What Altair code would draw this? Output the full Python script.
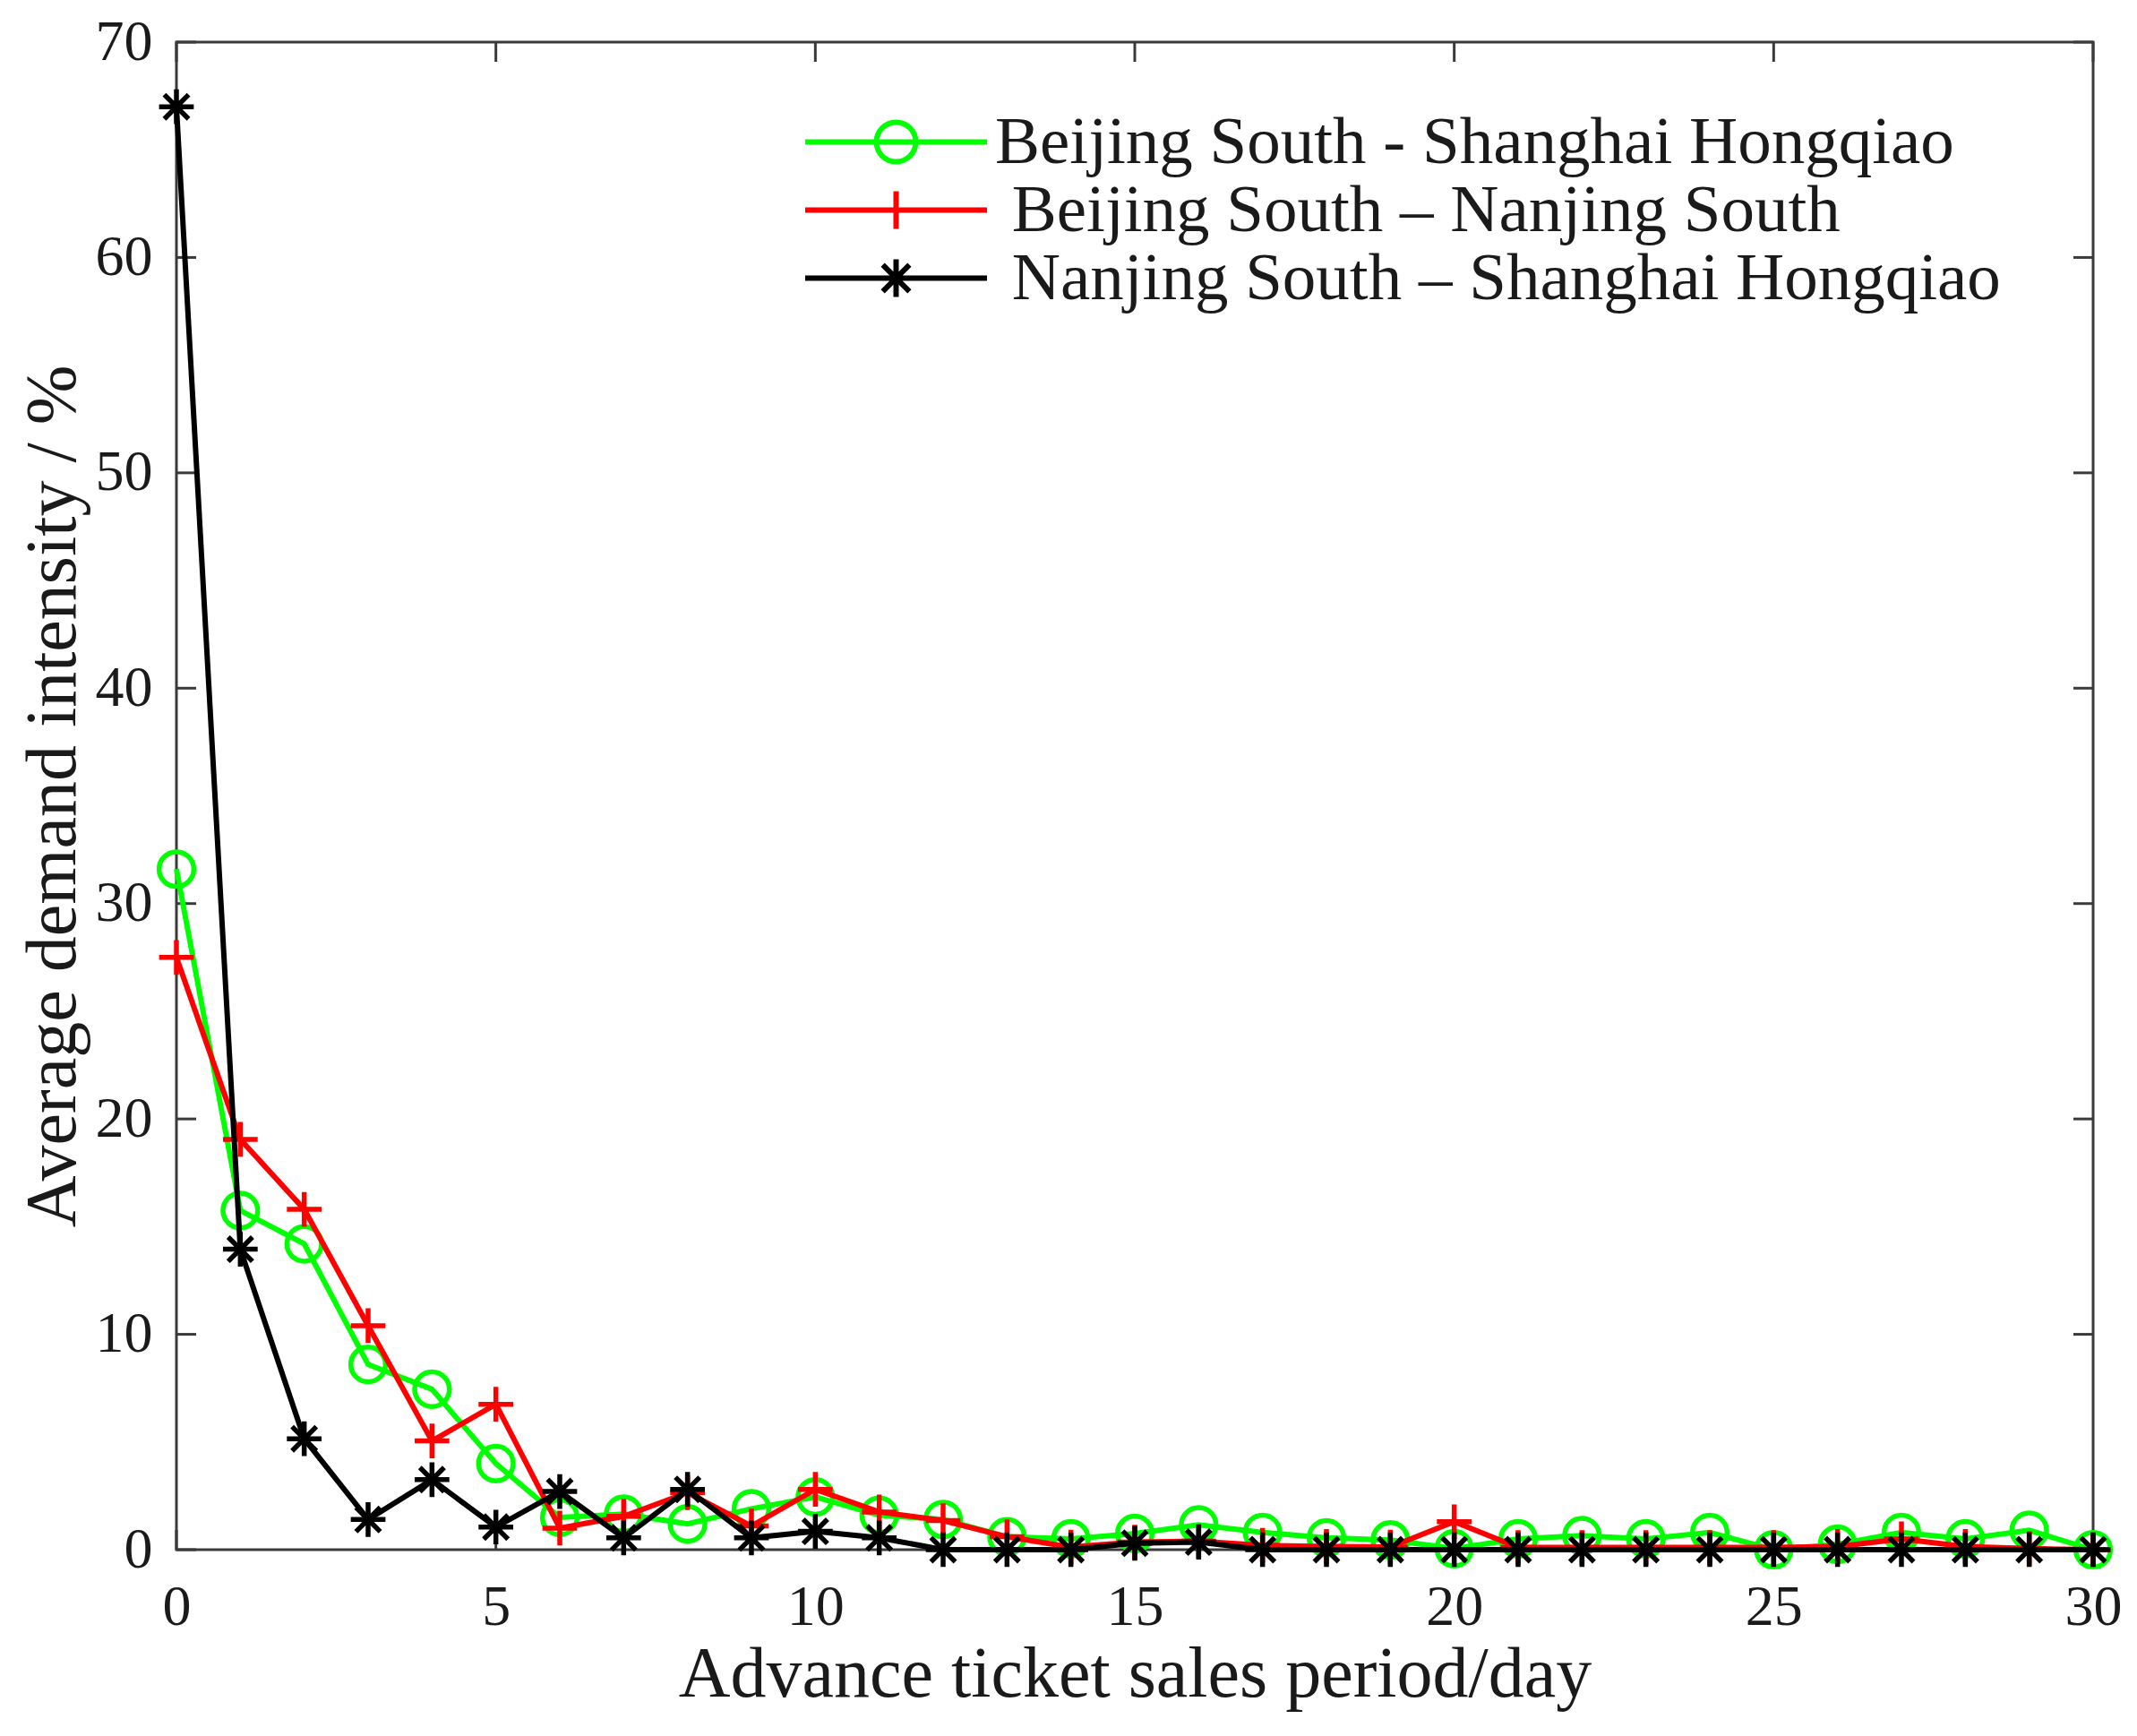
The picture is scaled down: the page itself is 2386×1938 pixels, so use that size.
import altair as alt
import pandas as pd

# ---- data ----
days = list(range(0, 31))
bs_sh = [31.6, 15.75, 14.2, 8.6, 7.45, 4.0, 1.5, 1.65, 1.2, 1.9, 2.45, 1.6, 1.4, 0.6, 0.5,
         0.75, 1.15, 0.8, 0.55, 0.45, 0.05, 0.5, 0.65, 0.5, 0.8, 0.0, 0.25, 0.8, 0.5, 0.9, 0.0]
bs_nj = [27.5, 19.05, 15.8, 10.4, 5.05, 6.75, 1.0, 1.55, 2.65, 1.1, 2.8, 1.75, 1.35, 0.6, 0.12,
         0.35, 0.4, 0.2, 0.15, 0.12, 1.3, 0.1, 0.1, 0.1, 0.1, 0.1, 0.15, 0.5, 0.15, 0.05, 0.0]
nj_sh = [67.0, 13.95, 5.15, 1.4, 3.25, 1.05, 2.7, 0.55, 2.8, 0.55, 0.85, 0.55, 0.0, 0.0, 0.0,
         0.3, 0.35, 0.0, 0.0, 0.0, 0.0, 0.0, 0.0, 0.0, 0.0, 0.0, 0.0, 0.0, 0.0, 0.0, 0.0]

# labels 2 and 3 carry a leading space in the original legend
series_names = ["Beijing South - Shanghai Hongqiao",
                "\u200b\u00a0Beijing South \u2013 Nanjing South",
                "\u200b\u00a0Nanjing South \u2013 Shanghai Hongqiao"]
series_colors = ["#00ff00", "#ff0000", "#000000"]
x_ticks = [0, 5, 10, 15, 20, 25, 30]
y_ticks = [0, 10, 20, 30, 40, 50, 60, 70]

# marker shapes (unit box -1..1)
marker_paths = [
    "circle",
    "M-1,0L1,0M0,-1L0,1",
    "M-1,0L1,0M0,-1L0,1M-0.7,-0.7L0.7,0.7M-0.7,0.7L0.7,-0.7",
]
# legend symbols: line sample plus marker
legend_paths = [
    "M-3,0L3,0M0.65,0A0.65,0.65 0 1,1 -0.65,0A0.65,0.65 0 1,1 0.65,0",
    "M-3,0L3,0M0,-0.62L0,0.62",
    "M-3,0L3,0M0,-0.62L0,0.62M-0.44,-0.44L0.44,0.44M-0.44,0.44L0.44,-0.44",
]

rows = []
for name, vals in zip(series_names, [bs_sh, bs_nj, nj_sh]):
    for d, v in zip(days, vals):
        rows.append({"day": d, "value": v, "series": name})
df = pd.DataFrame(rows)
ticks_x = pd.DataFrame({"day": x_ticks})
ticks_y = pd.DataFrame({"value": y_ticks})

W, H = 2140, 1683
FONT = "Liberation Serif"
TXT = "#1a1a1a"
AX = "#3a3a3a"
TL = 22

xscale = alt.Scale(domain=[0, 30], nice=False, zero=False)
yscale = alt.Scale(domain=[0, 70], nice=False, zero=False)

xaxis = alt.Axis(values=x_ticks, title="Advance ticket sales period/day", grid=False,
                 domain=False, ticks=False, tickSize=0, labelFont=FONT, labelFontSize=64,
                 labelColor=TXT, labelBaseline="alphabetic", labelPadding=83,
                 titleFont=FONT, titleFontSize=80, titleFontWeight="normal", titleColor=TXT,
                 titleBaseline="alphabetic", titleY=163, labelFlush=False)
yaxis = alt.Axis(values=y_ticks, title="Average demand intensity / %", grid=False,
                 domain=False, ticks=False, tickSize=0, labelFont=FONT, labelFontSize=64,
                 labelColor=TXT, labelPadding=27, labelBaseline="middle",
                 titleFont=FONT, titleFontSize=80, titleFontWeight="normal", titleColor=TXT,
                 titleBaseline="alphabetic", titleX=-114, labelFlush=False)

X = alt.X("day:Q", scale=xscale, axis=xaxis)
Y = alt.Y("value:Q", scale=yscale, axis=yaxis)

legend_def = alt.Legend(orient="none", legendX=766, legendY=74, title=None,
                        symbolSize=4580, symbolStrokeWidth=6, labelFont=FONT,
                        labelFontSize=75, labelColor=TXT, labelOffset=73,
                        labelLimit=2000, padding=0, rowPadding=-4, symbolOffset=0)

base = alt.Chart(df)
layers = []
for i, name in enumerate(series_names):
    sub = base.transform_filter(alt.datum.series == name)
    line = sub.mark_line(strokeWidth=6, color=series_colors[i]).encode(x=X, y=Y)
    pts = sub.mark_point(shape=marker_paths[i], filled=False, size=1500, strokeWidth=5.5,
                         opacity=1, color=series_colors[i]).encode(x=X, y=Y)
    layers += [line, pts]

legend_layer = base.transform_filter("false").mark_point(filled=False, opacity=1,
                                                          strokeWidth=6, size=4580).encode(
    x=X, y=Y,
    color=alt.Color("series:N", scale=alt.Scale(domain=series_names, range=series_colors),
                    legend=legend_def),
    shape=alt.Shape("series:N", scale=alt.Scale(domain=series_names, range=legend_paths),
                    legend=legend_def),
)

tick_bottom = alt.Chart(ticks_x).mark_rule(color=AX, strokeWidth=3).encode(
    x=X, y=alt.value(H), y2=alt.value(H - TL))
tick_top = alt.Chart(ticks_x).mark_rule(color=AX, strokeWidth=3).encode(
    x=X, y=alt.value(0), y2=alt.value(TL))
tick_left = alt.Chart(ticks_y).mark_rule(color=AX, strokeWidth=3).encode(
    y=Y, x=alt.value(0), x2=alt.value(TL))
tick_right = alt.Chart(ticks_y).mark_rule(color=AX, strokeWidth=3).encode(
    y=Y, x=alt.value(W - TL), x2=alt.value(W))

chart = alt.layer(tick_bottom, tick_top, tick_left, tick_right, *layers, legend_layer).properties(
    width=W, height=H,
    autosize=alt.AutoSizeParams(type="none"),
    padding={"left": 189, "top": 39, "right": 41, "bottom": 208},
    background="white",
).configure_view(stroke=AX, strokeWidth=3)

chart.save("out.html", embed_options={"renderer": "svg", "actions": False})
